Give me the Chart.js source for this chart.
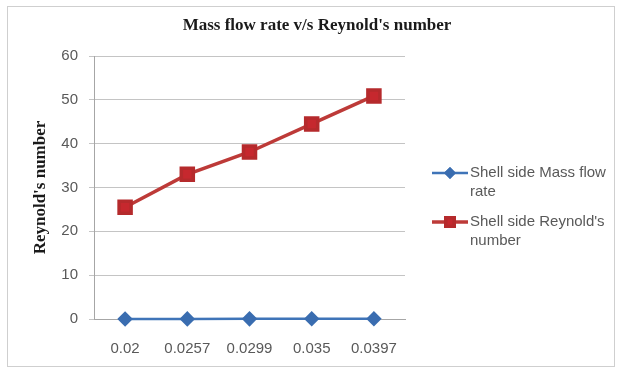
<!DOCTYPE html>
<html>
<head>
<meta charset="utf-8">
<script src="https://cdn.jsdelivr.net/npm/chart.js@4/dist/chart.umd.min.js"></script>
<style>
  html, body { margin: 0; padding: 0; background: #ffffff; }
  canvas { display: block; }
</style>
</head>
<body>
<canvas id="flowChart" width="622" height="374"></canvas>
<script>
// Datos del gráfico
const massFlowLabels = ['0.02', '0.0257', '0.0299', '0.035', '0.0397'];
const massFlowRate = [0.02, 0.0257, 0.0299, 0.035, 0.0397];
const reynoldsNumber = [25.5, 33.0, 38.1, 44.5, 50.9];
const yTicks = [0, 10, 20, 30, 40, 50, 60];

const chartTitle = "Mass flow rate v/s Reynold's number";
const yAxisTitle = "Reynold's number";
const legendLines = [
    ['Shell side Mass flow', 'rate'],
    ["Shell side Reynold's", 'number']
];

const tickFont = { family: "'Liberation Sans', Arial, sans-serif", size: 15 };
const serifBold = "bold 17px 'Liberation Serif', 'Times New Roman', serif";

// Marco exterior y título
const framePlugin = {
    id: 'frame',
    beforeDraw(chart) {
        const ctx = chart.ctx;
        ctx.save();
        ctx.fillStyle = '#ffffff';
        ctx.fillRect(0, 0, chart.width, chart.height);
        ctx.strokeStyle = '#cfcfcf';
        ctx.lineWidth = 1;
        ctx.strokeRect(7.5, 6.5, 607, 360);
        ctx.restore();
    },
    afterDraw(chart) {
        const ctx = chart.ctx;
        ctx.save();
        ctx.font = serifBold;
        ctx.fillStyle = '#1a1a1a';
        ctx.textAlign = 'center';
        ctx.textBaseline = 'middle';
        ctx.fillText(chartTitle, 317, 26);
        ctx.restore();
    }
};

// Leyenda a la derecha con texto en dos líneas
const sideLegendPlugin = {
    id: 'sideLegend',
    afterDraw(chart) {
        const ctx = chart.ctx;
        const rows = [173, 222];
        ctx.save();
        chart.data.datasets.forEach((ds, i) => {
            const y = rows[i];
            ctx.strokeStyle = ds.borderColor;
            ctx.lineWidth = ds.borderWidth;
            ctx.beginPath();
            ctx.moveTo(432, y);
            ctx.lineTo(468, y);
            ctx.stroke();
            Chart.helpers.drawPoint(ctx, {
                pointStyle: ds.pointStyle,
                radius: ds.pointRadius * 0.7,
                rotation: 0,
                borderWidth: 1
            }, 450, y);
            ctx.fillStyle = ds.pointBackgroundColor;
            ctx.strokeStyle = ds.pointBorderColor;
            ctx.fill();
            ctx.stroke();

            ctx.fillStyle = '#595959';
            ctx.font = "15px 'Liberation Sans', Arial, sans-serif";
            ctx.textAlign = 'left';
            ctx.textBaseline = 'middle';
            legendLines[i].forEach((line, j) => {
                ctx.fillText(line, 470, y + j * 19);
            });
        });
        ctx.restore();
    }
};

const ctx = document.getElementById('flowChart').getContext('2d');
const flowChart = new Chart(ctx, {
    type: 'line',
    data: {
        labels: massFlowLabels,
        datasets: [
            {
                label: legendLines[0].join(' '),
                data: massFlowRate,
                borderColor: '#3f74b8',
                borderWidth: 2.5,
                pointStyle: 'rectRot',
                pointRadius: 6,
                pointBackgroundColor: '#3a6db0',
                pointBorderColor: '#3a6db0',
                clip: false
            },
            {
                label: legendLines[1].join(' '),
                data: reynoldsNumber,
                borderColor: '#bd3a38',
                borderWidth: 3.5,
                pointStyle: 'rect',
                pointRadius: 8.5,
                pointBackgroundColor: '#c6282e',
                pointBorderColor: '#b52a2c',
                clip: false
            }
        ]
    },
    options: {
        responsive: false,
        animation: false,
        layout: {
            padding: { top: 56, right: 217, bottom: 0, left: 0 }
        },
        plugins: {
            legend: { display: false },
            tooltip: { enabled: false },
            title: { display: false }
        },
        scales: {
            x: {
                offset: true,
                grid: { display: false, drawTicks: false },
                border: { display: true, color: '#a6a6a6' },
                ticks: { font: tickFont, color: '#595959', padding: 21 },
                afterFit(scale) { scale.height = 55; }
            },
            y: {
                min: 0,
                max: 60,
                afterBuildTicks(scale) {
                    scale.ticks = yTicks.map(v => ({ value: v }));
                },
                grid: { color: '#c4c4c4', tickLength: 5 },
                border: { display: true, color: '#a6a6a6' },
                ticks: { font: tickFont, color: '#595959', padding: 11 },
                title: {
                    display: true,
                    text: yAxisTitle,
                    font: { family: "'Liberation Serif', 'Times New Roman', serif", size: 17, weight: 'bold' },
                    color: '#1a1a1a',
                    padding: { top: 30, bottom: 0 }
                },
                afterFit(scale) { scale.width = 94; }
            }
        }
    },
    plugins: [framePlugin, sideLegendPlugin]
});
</script>
</body>
</html>
